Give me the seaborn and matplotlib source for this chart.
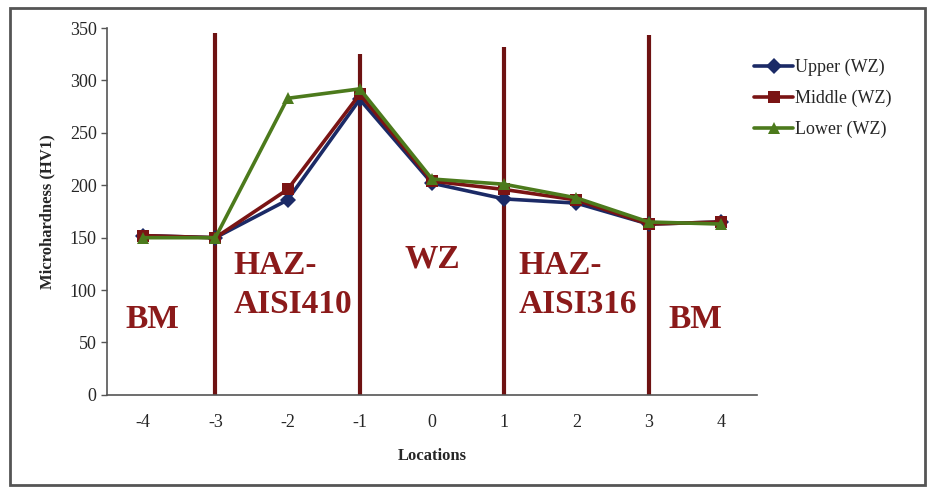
import seaborn as sns
import pandas as pd
import matplotlib.pyplot as plt
from matplotlib.patches import Rectangle

locations = [-4, -3, -2, -1, 0, 1, 2, 3, 4]
upper = [152, 150, 186, 282, 202, 187, 183, 163, 165]
middle = [152, 150, 196, 287, 204, 196, 186, 163, 165]
lower = [150, 150, 283, 292, 206, 201, 188, 165, 163]
series_names = ['Upper (WZ)', 'Middle (WZ)', 'Lower (WZ)']

# zone boundaries and their line tops
bounds = [-3, -1, 1, 3]
bound_tops = [345, 325, 332, 343]
zone_labels = ['BM', 'HAZ-\nAISI410', 'WZ', 'HAZ-\nAISI316', 'BM']
zone_x = [-4.25, -2.75, -0.38, 1.2, 3.28]
zone_y = [72, 105, 130, 105, 72]

df = pd.DataFrame({'loc': locations * 3,
                   'hv': upper + middle + lower,
                   'series': sum([[n] * len(locations) for n in series_names], [])})

sns.set_style('white')
plt.rcParams['font.family'] = ['Liberation Serif', 'DejaVu Serif']
plt.rcParams['axes.unicode_minus'] = False

fig = plt.figure(figsize=(9.31, 4.93), dpi=100)
ax = fig.add_axes([0.115, 0.199, 0.698, 0.744])

dark_red = '#6e1212'
for b, t in zip(bounds, bound_tops):
    ax.plot([b, b], [0, t], color=dark_red, lw=3, zorder=1, solid_capstyle='butt')

palette = {'Upper (WZ)': '#1b2a66', 'Middle (WZ)': '#7a1414', 'Lower (WZ)': '#4c7a1c'}
markers = {'Upper (WZ)': 'D', 'Middle (WZ)': 's', 'Lower (WZ)': '^'}
sns.lineplot(data=df, x='loc', y='hv', hue='series', style='series',
             palette=palette, markers=markers, dashes=False, lw=2.6,
             markersize=8, markeredgewidth=0, ax=ax, zorder=3)

for x, y, txt in zip(zone_x, zone_y, zone_labels):
    ax.text(x, y, txt, color='#8b1a1a', fontsize=24, fontweight='bold',
            ha='left', va='center', linespacing=1.35)

ax.set_xlim(-4.5, 4.5)
ax.set_ylim(0, 350)
ax.set_xticks(locations)
ax.set_yticks(range(0, 351, 50))
ax.tick_params(axis='y', length=4, left=True, labelsize=13, width=1, color='#555555')
ax.tick_params(axis='x', length=0, labelsize=13, pad=14)
for s in ['top', 'right']:
    ax.spines[s].set_visible(False)
for s in ['left', 'bottom']:
    ax.spines[s].set_color('#555555')
    ax.spines[s].set_linewidth(1.2)
ax.set_xlabel('Locations', fontsize=12, fontweight='bold', labelpad=12)
ax.set_ylabel('Microhardness (HV1)', fontsize=12, fontweight='bold', labelpad=10)

ax.legend(title=None, frameon=False, loc='upper left', bbox_to_anchor=(0.97, 0.96),
          fontsize=13, handlelength=2.2, handletextpad=0.1, labelspacing=0.75)

fig.patches.append(Rectangle((0.011, 0.016), 0.983, 0.968, transform=fig.transFigure,
                             fill=False, edgecolor='#555555', lw=2))
fig.savefig('out.png', dpi=100)
